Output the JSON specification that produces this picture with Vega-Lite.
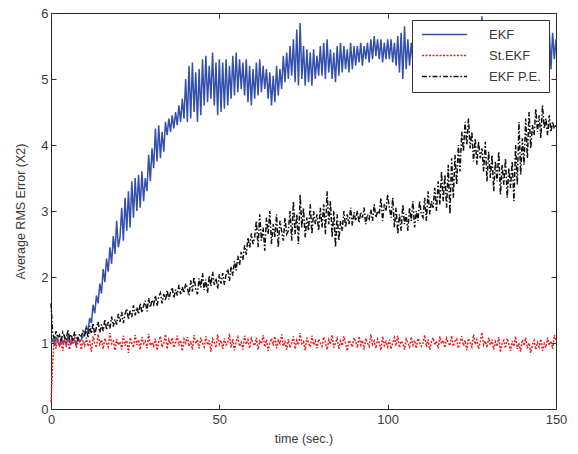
{
"$schema": "https://vega.github.io/schema/vega-lite/v6.json",
"autosize": {"type": "none"},
"padding": {"left": 51, "top": 13, "right": 22, "bottom": 45},
"width": 505, "height": 396,
"background": "white",
"config": {
  "font": "Liberation Sans",
  "view": {"stroke": "#222222", "strokeWidth": 1},
  "axis": {"grid": false, "domain": false, "labelFlush": false, "tickSize": -5, "tickColor": "#333333", "labelFont": "Liberation Sans", "labelFontSize": 13, "labelColor": "#3a3a3a", "titleFont": "Liberation Sans", "titleFontSize": 12.5, "titleFontWeight": "normal", "titleColor": "#3a3a3a"}
},
"data": {"values": [
{"t":0,"a":1.0,"b":0.1,"c":1.6},{"t":0.5,"a":1.05,"b":0.7,"c":1.15},{"t":1,"a":0.98,"b":1.05,"c":1.05},{"t":1.5,"a":1.08,"b":0.92,"c":1.18},{"t":2,"a":1.02,"b":1.08,"c":1.08},{"t":2.5,"a":0.96,"b":0.95,"c":1.12},{"t":3,"a":1.07,"b":1.0,"c":1.02},{"t":3.5,"a":1.0,"b":0.88,"c":1.16},{"t":4,"a":1.04,"b":1.1,"c":1.1},{"t":4.5,"a":0.97,"b":0.97,"c":1.04},{"t":5,"a":1.1,"b":1.03,"c":1.2},{"t":5.5,"a":1.01,"b":0.9,"c":1.07},{"t":6,"a":0.99,"b":1.07,"c":1.13},{"t":6.5,"a":1.06,"b":0.98,"c":1.03},{"t":7,"a":1.03,"b":1.12,"c":1.17},{"t":7.5,"a":0.97,"b":0.93,"c":1.09},{"t":8,"a":1.08,"b":1.0,"c":1.05},{"t":8.5,"a":1.02,"b":1.06,"c":1.14},{"t":9,"a":1.05,"b":0.9,"c":1.1},{"t":9.5,"a":1.1,"b":1.04,"c":1.18},{"t":10,"a":1.15,"b":0.96,"c":1.12},
{"t":10.5,"a":1.25,"b":1.08,"c":1.22},{"t":11,"a":1.18,"b":0.95,"c":1.08},{"t":11.5,"a":1.38,"b":1.02,"c":1.26},{"t":12,"a":1.3,"b":0.87,"c":1.14},{"t":12.5,"a":1.58,"b":1.1,"c":1.3},{"t":13,"a":1.45,"b":1.0,"c":1.12},{"t":13.5,"a":1.72,"b":0.93,"c":1.24},{"t":14,"a":1.6,"b":1.13,"c":1.32},{"t":14.5,"a":1.9,"b":0.98,"c":1.16},{"t":15,"a":1.75,"b":1.05,"c":1.28},{"t":15.5,"a":2.12,"b":0.91,"c":1.18},{"t":16,"a":1.92,"b":1.07,"c":1.36},{"t":16.5,"a":2.28,"b":1.0,"c":1.2},{"t":17,"a":2.08,"b":0.94,"c":1.32},{"t":17.5,"a":2.45,"b":1.15,"c":1.22},{"t":18,"a":2.2,"b":0.99,"c":1.4},{"t":18.5,"a":2.62,"b":1.03,"c":1.25},{"t":19,"a":2.35,"b":0.89,"c":1.36},{"t":19.5,"a":2.85,"b":1.06,"c":1.28},{"t":20,"a":2.45,"b":0.97,"c":1.44},
{"t":20.5,"a":2.6,"b":1.02,"c":1.32},{"t":21,"a":3.05,"b":0.9,"c":1.47},{"t":21.5,"a":2.55,"b":1.11,"c":1.3},{"t":22,"a":3.2,"b":0.96,"c":1.44},{"t":22.5,"a":2.7,"b":1.04,"c":1.52},{"t":23,"a":3.3,"b":0.85,"c":1.36},{"t":23.5,"a":2.75,"b":1.08,"c":1.49},{"t":24,"a":3.45,"b":1.0,"c":1.39},{"t":24.5,"a":2.9,"b":0.93,"c":1.57},{"t":25,"a":3.5,"b":1.12,"c":1.42},{"t":25.5,"a":3.0,"b":0.97,"c":1.54},{"t":26,"a":3.55,"b":1.05,"c":1.44},{"t":26.5,"a":3.05,"b":0.9,"c":1.6},{"t":27,"a":3.6,"b":1.09,"c":1.46},{"t":27.5,"a":3.15,"b":0.99,"c":1.56},{"t":28,"a":3.5,"b":1.03,"c":1.64},{"t":28.5,"a":3.3,"b":0.92,"c":1.48},{"t":29,"a":3.85,"b":1.14,"c":1.68},{"t":29.5,"a":3.45,"b":0.96,"c":1.54},{"t":30,"a":3.95,"b":1.01,"c":1.65},
{"t":30.5,"a":3.65,"b":0.95,"c":1.58},{"t":31,"a":4.25,"b":1.07,"c":1.72},{"t":31.5,"a":3.75,"b":0.89,"c":1.56},{"t":32,"a":4.3,"b":1.02,"c":1.7},{"t":32.5,"a":3.8,"b":1.1,"c":1.76},{"t":33,"a":4.2,"b":0.94,"c":1.6},{"t":33.5,"a":3.9,"b":1.0,"c":1.74},{"t":34,"a":4.35,"b":1.13,"c":1.64},{"t":34.5,"a":4.15,"b":0.91,"c":1.8},{"t":35,"a":4.4,"b":1.05,"c":1.66},{"t":35.5,"a":4.2,"b":0.98,"c":1.77},{"t":36,"a":4.45,"b":1.08,"c":1.84},{"t":36.5,"a":4.25,"b":0.93,"c":1.68},{"t":37,"a":4.5,"b":1.01,"c":1.81},{"t":37.5,"a":4.3,"b":1.11,"c":1.72},{"t":38,"a":4.6,"b":0.96,"c":1.88},{"t":38.5,"a":4.35,"b":1.04,"c":1.74},{"t":39,"a":4.7,"b":0.88,"c":1.85},{"t":39.5,"a":4.4,"b":1.06,"c":1.76},{"t":40,"a":5.0,"b":1.0,"c":1.9},
{"t":40.5,"a":4.35,"b":1.09,"c":1.84},{"t":41,"a":5.2,"b":0.95,"c":1.72},{"t":41.5,"a":4.4,"b":1.03,"c":1.95},{"t":42,"a":5.25,"b":0.9,"c":1.78},{"t":42.5,"a":4.5,"b":1.12,"c":2.0},{"t":43,"a":5.1,"b":0.99,"c":1.82},{"t":43.5,"a":4.35,"b":1.05,"c":1.74},{"t":44,"a":5.15,"b":0.92,"c":1.98},{"t":44.5,"a":4.45,"b":1.08,"c":1.84},{"t":45,"a":5.3,"b":1.0,"c":2.06},{"t":45.5,"a":4.6,"b":0.94,"c":1.8},{"t":46,"a":5.35,"b":1.1,"c":1.96},{"t":46.5,"a":4.65,"b":0.97,"c":1.76},{"t":47,"a":5.2,"b":1.04,"c":2.02},{"t":47.5,"a":4.7,"b":0.87,"c":1.86},{"t":48,"a":5.4,"b":1.06,"c":2.08},{"t":48.5,"a":4.6,"b":1.01,"c":1.88},{"t":49,"a":5.25,"b":0.93,"c":1.98},{"t":49.5,"a":4.45,"b":1.13,"c":1.82},{"t":50,"a":5.3,"b":0.98,"c":2.04},
{"t":50.5,"a":4.5,"b":1.04,"c":1.9},{"t":51,"a":5.25,"b":0.91,"c":2.06},{"t":51.5,"a":4.55,"b":1.07,"c":1.88},{"t":52,"a":5.3,"b":0.97,"c":2.04},{"t":52.5,"a":4.6,"b":1.0,"c":2.12},{"t":53,"a":5.2,"b":1.14,"c":1.94},{"t":53.5,"a":4.7,"b":0.93,"c":2.16},{"t":54,"a":5.35,"b":1.06,"c":2.02},{"t":54.5,"a":4.75,"b":0.89,"c":2.24},{"t":55,"a":5.4,"b":1.02,"c":2.1},{"t":55.5,"a":4.8,"b":1.09,"c":2.32},{"t":56,"a":5.3,"b":0.95,"c":2.18},{"t":56.5,"a":4.85,"b":1.01,"c":2.38},{"t":57,"a":5.25,"b":0.9,"c":2.26},{"t":57.5,"a":4.75,"b":1.11,"c":2.48},{"t":58,"a":5.3,"b":0.98,"c":2.34},{"t":58.5,"a":4.65,"b":1.05,"c":2.6},{"t":59,"a":5.2,"b":0.92,"c":2.44},{"t":59.5,"a":4.6,"b":1.07,"c":2.66},{"t":60,"a":5.15,"b":1.0,"c":2.5},
{"t":60.5,"a":4.7,"b":0.96,"c":2.6},{"t":61,"a":5.25,"b":1.08,"c":2.85},{"t":61.5,"a":4.75,"b":0.9,"c":2.45},{"t":62,"a":5.3,"b":1.03,"c":2.95},{"t":62.5,"a":4.8,"b":0.99,"c":2.55},{"t":63,"a":5.2,"b":1.12,"c":2.75},{"t":63.5,"a":4.85,"b":0.94,"c":2.4},{"t":64,"a":5.15,"b":1.05,"c":2.9},{"t":64.5,"a":4.7,"b":0.88,"c":2.65},{"t":65,"a":5.1,"b":1.01,"c":3.0},{"t":65.5,"a":4.6,"b":1.07,"c":2.5},{"t":66,"a":5.05,"b":0.96,"c":2.8},{"t":66.5,"a":4.65,"b":1.1,"c":2.6},{"t":67,"a":5.2,"b":0.92,"c":2.95},{"t":67.5,"a":4.75,"b":1.04,"c":2.45},{"t":68,"a":5.15,"b":0.99,"c":2.85},{"t":68.5,"a":4.85,"b":1.13,"c":2.7},{"t":69,"a":5.35,"b":0.95,"c":2.55},{"t":69.5,"a":4.95,"b":1.02,"c":2.9},{"t":70,"a":5.4,"b":0.9,"c":2.65},
{"t":70.5,"a":5.0,"b":1.06,"c":2.7},{"t":71,"a":5.5,"b":0.93,"c":3.0},{"t":71.5,"a":5.05,"b":1.0,"c":2.55},{"t":72,"a":5.6,"b":1.1,"c":3.15},{"t":72.5,"a":4.95,"b":0.91,"c":2.65},{"t":73,"a":5.75,"b":1.04,"c":2.95},{"t":73.5,"a":4.9,"b":0.97,"c":2.5},{"t":74,"a":5.85,"b":1.15,"c":3.25},{"t":74.5,"a":5.0,"b":0.99,"c":2.75},{"t":75,"a":5.5,"b":1.02,"c":3.05},{"t":75.5,"a":4.9,"b":0.89,"c":2.6},{"t":76,"a":5.45,"b":1.08,"c":2.9},{"t":76.5,"a":4.95,"b":1.0,"c":2.7},{"t":77,"a":5.4,"b":0.94,"c":3.1},{"t":77.5,"a":4.9,"b":1.11,"c":2.65},{"t":78,"a":5.45,"b":0.97,"c":3.0},{"t":78.5,"a":5.0,"b":1.03,"c":2.8},{"t":79,"a":5.35,"b":0.92,"c":2.95},{"t":79.5,"a":5.05,"b":1.06,"c":2.7},{"t":80,"a":5.5,"b":1.0,"c":3.05},
{"t":80.5,"a":5.05,"b":0.95,"c":2.75},{"t":81,"a":5.55,"b":1.09,"c":3.1},{"t":81.5,"a":5.0,"b":1.01,"c":2.65},{"t":82,"a":5.6,"b":0.9,"c":3.3},{"t":82.5,"a":5.1,"b":1.05,"c":2.8},{"t":83,"a":5.45,"b":0.98,"c":3.15},{"t":83.5,"a":5.0,"b":1.12,"c":2.6},{"t":84,"a":5.4,"b":0.93,"c":3.0},{"t":84.5,"a":4.95,"b":1.0,"c":2.45},{"t":85,"a":5.5,"b":1.07,"c":2.95},{"t":85.5,"a":5.05,"b":0.91,"c":2.55},{"t":86,"a":5.55,"b":1.03,"c":2.85},{"t":86.5,"a":5.1,"b":0.96,"c":2.7},{"t":87,"a":5.5,"b":1.1,"c":3.0},{"t":87.5,"a":5.15,"b":0.99,"c":2.75},{"t":88,"a":5.45,"b":0.88,"c":2.95},{"t":88.5,"a":5.1,"b":1.04,"c":2.8},{"t":89,"a":5.55,"b":1.0,"c":3.05},{"t":89.5,"a":5.15,"b":0.94,"c":2.78},{"t":90,"a":5.5,"b":1.08,"c":2.98},
{"t":90.5,"a":5.2,"b":1.02,"c":2.85},{"t":91,"a":5.5,"b":0.93,"c":3.0},{"t":91.5,"a":5.25,"b":1.1,"c":2.82},{"t":92,"a":5.55,"b":0.97,"c":2.98},{"t":92.5,"a":5.2,"b":1.04,"c":2.9},{"t":93,"a":5.5,"b":0.9,"c":3.05},{"t":93.5,"a":5.3,"b":1.07,"c":2.8},{"t":94,"a":5.55,"b":1.0,"c":2.95},{"t":94.5,"a":5.25,"b":0.95,"c":2.88},{"t":95,"a":5.6,"b":1.13,"c":3.02},{"t":95.5,"a":5.3,"b":0.98,"c":2.85},{"t":96,"a":5.65,"b":1.03,"c":3.1},{"t":96.5,"a":5.35,"b":0.92,"c":2.9},{"t":97,"a":5.6,"b":1.06,"c":3.0},{"t":97.5,"a":5.3,"b":1.0,"c":2.95},{"t":98,"a":5.6,"b":0.89,"c":3.2},{"t":98.5,"a":5.25,"b":1.1,"c":2.85},{"t":99,"a":5.55,"b":0.96,"c":3.1},{"t":99.5,"a":5.3,"b":1.02,"c":3.0},{"t":100,"a":5.6,"b":0.94,"c":3.25},
{"t":100.5,"a":5.3,"b":1.05,"c":3.05},{"t":101,"a":5.6,"b":0.91,"c":2.9},{"t":101.5,"a":5.25,"b":1.0,"c":3.2},{"t":102,"a":5.55,"b":1.08,"c":2.75},{"t":102.5,"a":5.2,"b":0.96,"c":3.05},{"t":103,"a":5.65,"b":1.11,"c":2.65},{"t":103.5,"a":5.1,"b":0.93,"c":2.95},{"t":104,"a":5.7,"b":1.03,"c":2.7},{"t":104.5,"a":5.0,"b":0.99,"c":3.1},{"t":105,"a":5.8,"b":0.9,"c":2.8},{"t":105.5,"a":5.15,"b":1.06,"c":2.95},{"t":106,"a":5.6,"b":1.0,"c":2.7},{"t":106.5,"a":5.2,"b":0.94,"c":3.05},{"t":107,"a":5.55,"b":1.09,"c":2.85},{"t":107.5,"a":5.25,"b":0.97,"c":3.15},{"t":108,"a":5.65,"b":1.04,"c":2.75},{"t":108.5,"a":5.3,"b":0.92,"c":3.0},{"t":109,"a":5.6,"b":1.07,"c":2.85},{"t":109.5,"a":5.2,"b":1.01,"c":3.15},{"t":110,"a":5.55,"b":0.95,"c":2.95},
{"t":110.5,"a":5.25,"b":1.0,"c":2.9},{"t":111,"a":5.6,"b":1.12,"c":3.2},{"t":111.5,"a":5.3,"b":0.94,"c":2.85},{"t":112,"a":5.65,"b":1.05,"c":3.3},{"t":112.5,"a":5.2,"b":0.9,"c":2.95},{"t":113,"a":5.55,"b":1.02,"c":3.15},{"t":113.5,"a":5.3,"b":1.08,"c":3.05},{"t":114,"a":5.6,"b":0.97,"c":3.35},{"t":114.5,"a":5.25,"b":1.03,"c":3.0},{"t":115,"a":5.7,"b":0.92,"c":3.45},{"t":115.5,"a":5.3,"b":1.1,"c":3.1},{"t":116,"a":5.6,"b":0.99,"c":3.6},{"t":116.5,"a":5.35,"b":1.04,"c":3.15},{"t":117,"a":5.65,"b":0.93,"c":3.55},{"t":117.5,"a":5.25,"b":1.07,"c":3.05},{"t":118,"a":5.6,"b":1.0,"c":3.7},{"t":118.5,"a":5.3,"b":0.96,"c":2.95},{"t":119,"a":5.7,"b":1.11,"c":3.8},{"t":119.5,"a":5.4,"b":0.95,"c":3.2},{"t":120,"a":5.85,"b":1.03,"c":3.85},
{"t":120.5,"a":5.3,"b":1.06,"c":3.4},{"t":121,"a":5.6,"b":0.92,"c":4.0},{"t":121.5,"a":5.25,"b":1.01,"c":3.6},{"t":122,"a":5.65,"b":1.1,"c":4.2},{"t":122.5,"a":5.3,"b":0.96,"c":3.9},{"t":123,"a":5.55,"b":1.04,"c":4.35},{"t":123.5,"a":5.2,"b":0.89,"c":4.0},{"t":124,"a":5.6,"b":1.07,"c":4.4},{"t":124.5,"a":5.3,"b":1.0,"c":3.95},{"t":125,"a":5.7,"b":0.94,"c":4.2},{"t":125.5,"a":5.25,"b":1.13,"c":3.75},{"t":126,"a":5.65,"b":0.98,"c":4.1},{"t":126.5,"a":5.35,"b":1.05,"c":3.7},{"t":127,"a":5.75,"b":0.91,"c":4.05},{"t":127.5,"a":5.4,"b":1.02,"c":3.8},{"t":128,"a":5.95,"b":1.16,"c":3.95},{"t":128.5,"a":5.3,"b":0.97,"c":3.6},{"t":129,"a":5.65,"b":1.03,"c":4.05},{"t":129.5,"a":5.25,"b":0.93,"c":3.45},{"t":130,"a":5.6,"b":1.08,"c":3.9},
{"t":130.5,"a":5.25,"b":0.97,"c":3.5},{"t":131,"a":5.6,"b":1.05,"c":3.85},{"t":131.5,"a":5.3,"b":0.9,"c":3.3},{"t":132,"a":5.55,"b":1.02,"c":3.75},{"t":132.5,"a":5.2,"b":0.95,"c":3.45},{"t":133,"a":5.65,"b":1.09,"c":3.9},{"t":133.5,"a":5.3,"b":0.86,"c":3.25},{"t":134,"a":5.6,"b":1.0,"c":3.7},{"t":134.5,"a":5.25,"b":1.04,"c":3.4},{"t":135,"a":5.55,"b":0.92,"c":3.8},{"t":135.5,"a":5.2,"b":1.07,"c":3.2},{"t":136,"a":5.6,"b":0.98,"c":3.65},{"t":136.5,"a":5.3,"b":0.88,"c":3.35},{"t":137,"a":5.65,"b":1.03,"c":3.75},{"t":137.5,"a":5.25,"b":0.95,"c":3.15},{"t":138,"a":5.6,"b":1.1,"c":4.0},{"t":138.5,"a":5.3,"b":0.91,"c":3.4},{"t":139,"a":5.55,"b":1.0,"c":4.35},{"t":139.5,"a":5.2,"b":0.87,"c":3.55},{"t":140,"a":5.6,"b":1.05,"c":4.1},
{"t":140.5,"a":5.3,"b":0.96,"c":3.7},{"t":141,"a":5.6,"b":1.08,"c":4.4},{"t":141.5,"a":5.25,"b":0.92,"c":3.8},{"t":142,"a":5.65,"b":1.0,"c":4.5},{"t":142.5,"a":5.2,"b":0.85,"c":3.95},{"t":143,"a":5.6,"b":0.98,"c":4.3},{"t":143.5,"a":5.3,"b":1.04,"c":4.15},{"t":144,"a":5.55,"b":0.9,"c":4.55},{"t":144.5,"a":5.25,"b":1.01,"c":4.2},{"t":145,"a":5.6,"b":0.94,"c":4.45},{"t":145.5,"a":5.3,"b":1.06,"c":4.1},{"t":146,"a":5.65,"b":0.88,"c":4.6},{"t":146.5,"a":5.1,"b":0.99,"c":4.25},{"t":147,"a":5.7,"b":0.93,"c":4.4},{"t":147.5,"a":5.2,"b":1.08,"c":4.15},{"t":148,"a":5.75,"b":0.97,"c":4.45},{"t":148.5,"a":5.15,"b":1.03,"c":4.2},{"t":149,"a":5.7,"b":0.91,"c":4.35},{"t":149.5,"a":5.3,"b":1.12,"c":4.25},{"t":150,"a":5.6,"b":1.05,"c":4.3}
]},
"transform": [{"fold": ["a", "b", "c"], "as": ["s", "v"]}],
"layer": [
  {
    "mark": {"type": "line", "strokeWidth": 1.5},
    "encoding": {
      "x": {"field": "t", "type": "quantitative", "scale": {"domain": [0, 150], "nice": false, "zero": false}, "axis": {"values": [0, 50, 100, 150], "title": "time (sec.)", "labelPadding": 9, "titlePadding": 6}},
      "y": {"field": "v", "type": "quantitative", "scale": {"domain": [0, 6], "nice": false}, "axis": {"values": [0, 1, 2, 3, 4, 5, 6], "title": "Average RMS Error (X2)", "labelPadding": 8, "titlePadding": 13}},
      "color": {"field": "s", "type": "nominal", "scale": {"domain": ["a", "b", "c"], "range": ["#3350ac", "#ee1c1c", "#111111"]},
        "legend": {"orient": "none", "legendX": 361, "legendY": 7, "title": null, "labelExpr": "datum.value == 'a' ? 'EKF' : datum.value == 'b' ? 'St.EKF' : 'EKF P.E.'", "symbolType": "M-4.5,0H4.5", "symbolSize": 100, "symbolOffset": 18, "labelOffset": 38, "symbolStrokeWidth": 1.5, "fillColor": "white", "strokeColor": "#333333", "padding": 8, "rowPadding": 7, "labelFontSize": 13, "labelColor": "#3a3a3a", "labelFont": "Liberation Sans"}},
      "strokeDash": {"field": "s", "type": "nominal", "scale": {"domain": ["a", "b", "c"], "range": [[1, 0], [2, 1.5], [5, 2, 1.5, 2]]},
        "legend": {"orient": "none", "legendX": 361, "legendY": 7, "title": null, "labelExpr": "datum.value == 'a' ? 'EKF' : datum.value == 'b' ? 'St.EKF' : 'EKF P.E.'", "symbolType": "M-4.5,0H4.5", "symbolSize": 100, "symbolOffset": 18, "labelOffset": 38, "symbolStrokeWidth": 1.5, "fillColor": "white", "strokeColor": "#333333", "padding": 8, "rowPadding": 7, "labelFontSize": 13, "labelColor": "#3a3a3a", "labelFont": "Liberation Sans"}}
    }
  },
  {
    "mark": {"type": "line", "opacity": 0},
    "encoding": {
      "x": {"field": "t", "type": "quantitative", "scale": {"domain": [0, 150], "nice": false, "zero": false}, "axis": {"orient": "top", "values": [0, 50, 100, 150], "labels": false, "title": null}},
      "y": {"field": "v", "type": "quantitative", "scale": {"domain": [0, 6], "nice": false}, "axis": {"orient": "right", "values": [0, 1, 2, 3, 4, 5, 6], "labels": false, "title": null}},
      "detail": {"field": "s", "type": "nominal"}
    }
  }
],
"resolve": {"axis": {"x": "independent", "y": "independent"}}
}
